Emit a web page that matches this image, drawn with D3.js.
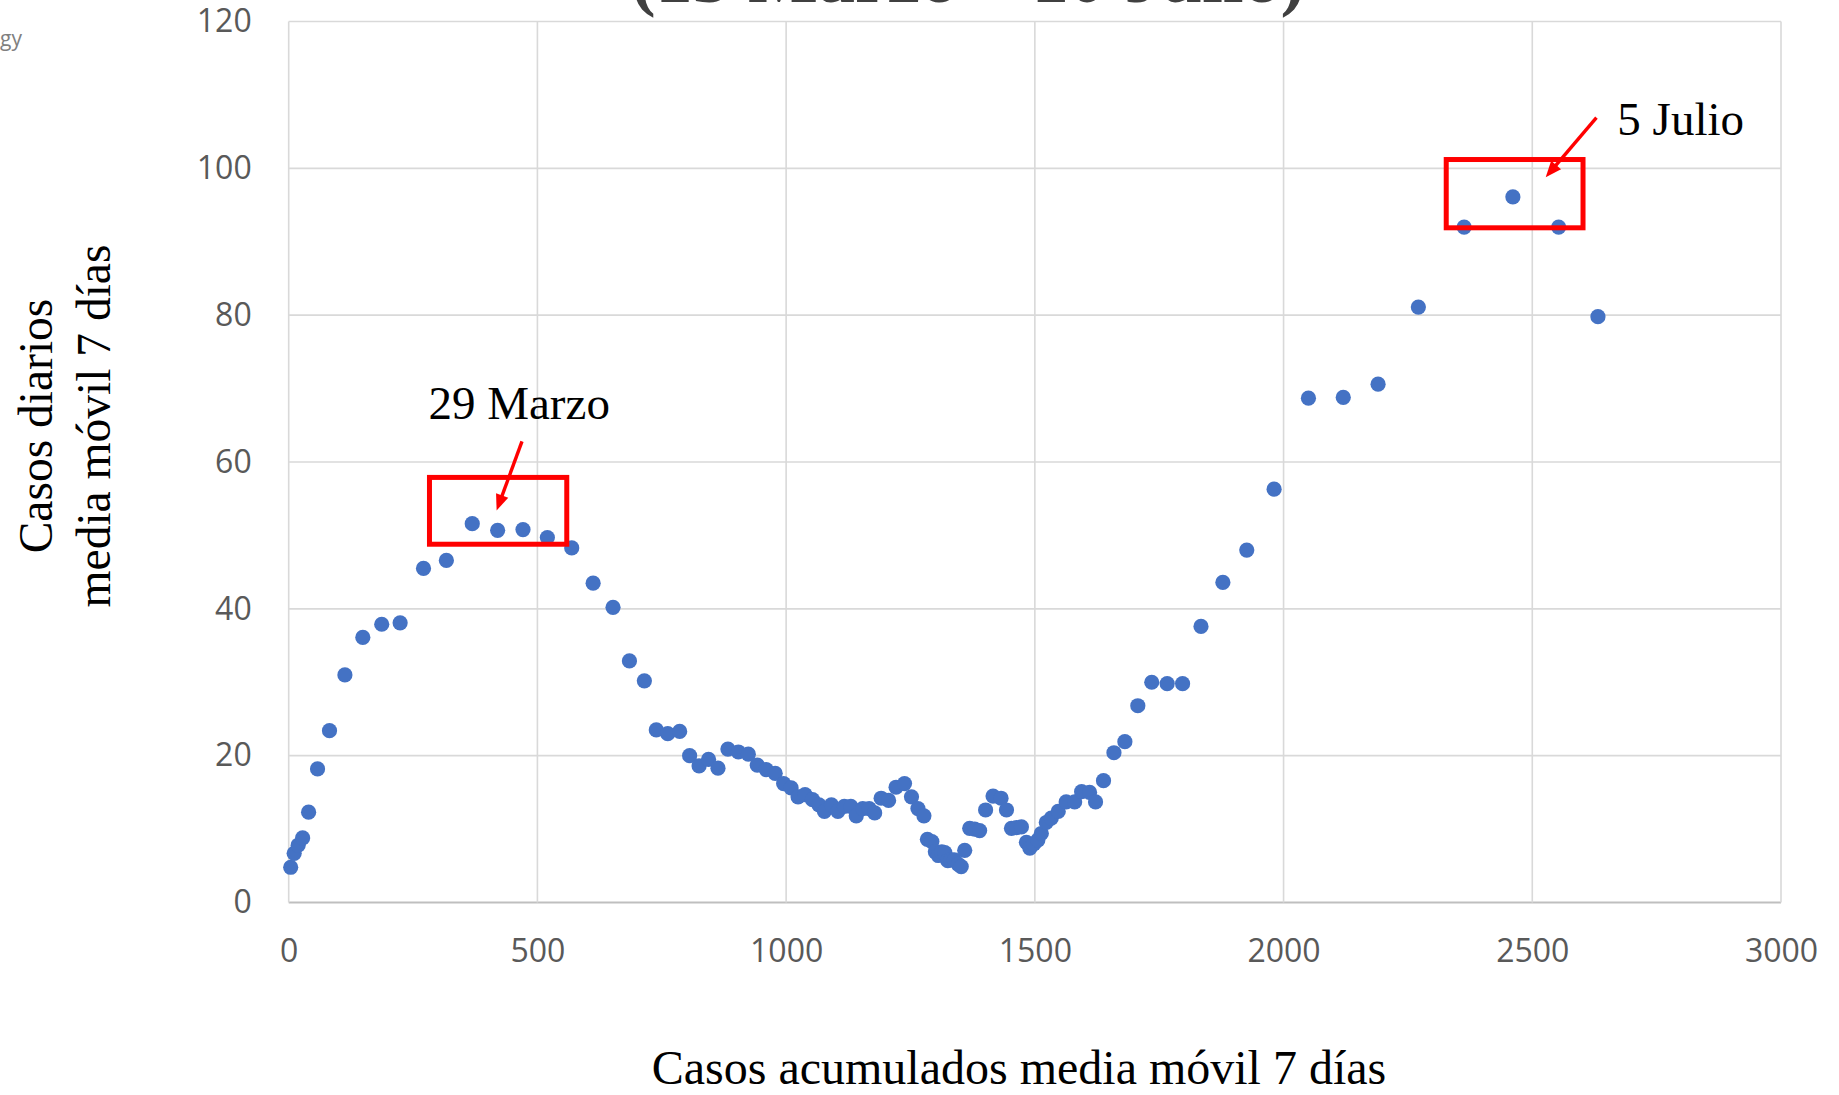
<!DOCTYPE html>
<html><head><meta charset="utf-8">
<script src="https://cdn.jsdelivr.net/npm/d3@7"></script>
<style>html,body{margin:0;padding:0;background:#fff;overflow:hidden}</style>
</head><body>
<svg id="chart" width="1839" height="1095"></svg>
<script>
// ---- data ----
const cumulative = [4, 11, 19, 28, 40, 58, 82, 113, 149, 187, 224, 271, 317, 369, 420, 471, 520, 569, 612, 652,
  685, 715, 739, 762, 786, 806, 825, 844, 863, 883, 904, 924, 942, 960, 978, 995, 1010, 1024, 1038, 1053,
  1066, 1077, 1091, 1104, 1117, 1130, 1141, 1154, 1167, 1178, 1191, 1206, 1221, 1238, 1252, 1265, 1277, 1284, 1293, 1300,
  1306, 1313, 1319, 1325, 1331, 1338, 1346, 1352, 1359, 1369, 1379, 1389, 1401, 1416, 1432, 1443, 1453, 1463, 1473, 1483,
  1490, 1498, 1506, 1513, 1523, 1533, 1547, 1563, 1580, 1594, 1610, 1622, 1638, 1659, 1681, 1707, 1735, 1766, 1797, 1834,
  1878, 1926, 1981, 2050, 2120, 2190, 2271, 2363, 2461, 2553, 2632];
const daily = [4.8, 6.7, 7.8, 8.8, 12.3, 18.2, 23.4, 31.0, 36.1, 37.9, 38.1, 45.5, 46.6, 51.6, 50.7, 50.8, 49.7, 48.3, 43.5, 40.2,
  32.9, 30.2, 23.5, 23.0, 23.3, 20.0, 18.6, 19.5, 18.3, 20.9, 20.5, 20.2, 18.7, 18.1, 17.6, 16.2, 15.6, 14.4, 14.7, 14.0,
  13.3, 12.4, 13.3, 12.4, 13.1, 13.1, 11.8, 12.8, 12.8, 12.2, 14.2, 13.9, 15.7, 16.2, 14.4, 12.8, 11.8, 8.6, 8.3, 6.9,
  6.4, 6.9, 6.8, 5.7, 5.8, 5.8, 5.2, 4.9, 7.1, 10.1, 10.0, 9.8, 12.6, 14.5, 14.2, 12.6, 10.1, 10.2, 10.3, 8.2,
  7.4, 8.0, 8.5, 9.4, 10.9, 11.5, 12.4, 13.7, 13.7, 15.1, 15.0, 13.7, 16.6, 20.4, 21.9, 26.8, 30.0, 29.8, 29.8, 37.6,
  43.6, 48.0, 56.3, 68.7, 68.8, 70.6, 81.1, 92.0, 96.1, 92.0, 79.8];
const xTicks = [0, 500, 1000, 1500, 2000, 2500, 3000];
const yTicks = [0, 20, 40, 60, 80, 100, 120];
const titleText = "(15 Marzo \u2013 10 Julio)";
const xTitle = "Casos acumulados media m\u00f3vil 7 d\u00edas";
const yTitleLines = ["Casos diarios", "media m\u00f3vil 7 d\u00edas"];
const cornerText = "gy";
// annotations, in data units
const annLabels = ["29 Marzo", "5 Julio"];
const annLabelAt = [[281, 65.8], [2671, 104.5]];
const annBoxX = [[283, 559], [2327, 2602]];
const annBoxY = [[48.8, 57.9], [91.9, 101.2]];
const annArrowFrom = [[469, 62.8], [2629, 106.9]];
const annArrowTo = [[418, 53.4], [2527, 98.8]];

// ---- drawing ----
const svg = d3.select("#chart");
const x = d3.scaleLinear().domain([0, 3000]).range([288.7, 1781]);
const y = d3.scaleLinear().domain([0, 120]).range([902.5, 21.5]);
const serif = "'Liberation Serif', 'Times New Roman', serif";
const sans = "'Open Sans', 'Noto Sans', sans-serif";

// title (cut at top of frame, as in the reference)
svg.append("text").attr("x", 968).attr("y", 2).attr("text-anchor", "middle")
  .attr("font-family", serif).attr("font-size", 74).attr("font-weight", "bold")
  .attr("fill", "#404040").text(titleText);

svg.append("text").attr("x", 0).attr("y", 46).attr("font-family", sans)
  .attr("font-size", 21).attr("fill", "#808080").text(cornerText);

// gridlines
const grid = svg.append("g");
grid.selectAll("line.h").data(yTicks).join("line").attr("class", "h")
  .attr("x1", x(0)).attr("x2", x(3000)).attr("y1", d => y(d)).attr("y2", d => y(d))
  .attr("stroke", d => d === 0 ? "#bfbfbf" : "#d9d9d9").attr("stroke-width", d => d === 0 ? 2 : 1.6);
grid.selectAll("line.v").data(xTicks).join("line").attr("class", "v")
  .attr("y1", y(0)).attr("y2", y(120)).attr("x1", d => x(d)).attr("x2", d => x(d))
  .attr("stroke", "#d9d9d9").attr("stroke-width", 1.6);

// axes
const xAxis = svg.append("g").attr("transform", `translate(0,${y(0)})`)
  .call(d3.axisBottom(x).tickValues(xTicks).tickSize(0).tickPadding(37).tickFormat(d3.format("d")));
const yAxis = svg.append("g").attr("transform", `translate(${x(0)},0)`)
  .call(d3.axisLeft(y).tickValues(yTicks).tickSize(0).tickPadding(37).tickFormat(d3.format("d")));
[xAxis, yAxis].forEach(a => {
  a.select(".domain").remove();
  a.selectAll("text").attr("font-family", sans).attr("font-size", 32).attr("fill", "#595959");
});

// points
svg.append("g").selectAll("circle").data(cumulative).join("circle")
  .attr("cx", d => x(d)).attr("cy", (d, i) => y(daily[i])).attr("r", 7.6).attr("fill", "#4472C4");

// annotations
const ann = svg.append("g");
annLabels.forEach((lab, i) => {
  ann.append("rect")
    .attr("x", x(annBoxX[i][0])).attr("width", x(annBoxX[i][1]) - x(annBoxX[i][0]))
    .attr("y", y(annBoxY[i][1])).attr("height", y(annBoxY[i][0]) - y(annBoxY[i][1]))
    .attr("fill", "none").attr("stroke", "#FF0000").attr("stroke-width", 5);
  const x1 = x(annArrowFrom[i][0]), y1 = y(annArrowFrom[i][1]);
  const x2 = x(annArrowTo[i][0]), y2 = y(annArrowTo[i][1]);
  const len = Math.hypot(x2 - x1, y2 - y1), ux = (x2 - x1) / len, uy = (y2 - y1) / len;
  ann.append("line").attr("x1", x1).attr("y1", y1)
    .attr("x2", x2 - ux * 10).attr("y2", y2 - uy * 10)
    .attr("stroke", "#FF0000").attr("stroke-width", 3.4);
  const bx = x2 - ux * 16, by = y2 - uy * 16, px = -uy, py = ux;
  ann.append("path")
    .attr("d", `M${x2},${y2}L${bx + px * 6.5},${by + py * 6.5}L${bx - px * 6.5},${by - py * 6.5}Z`)
    .attr("fill", "#FF0000");
  ann.append("text").attr("x", x(annLabelAt[i][0])).attr("y", y(annLabelAt[i][1]))
    .attr("font-family", serif).attr("font-size", 47).attr("fill", "#000").text(lab);
});

// axis titles
svg.append("text").attr("x", 1019).attr("y", 1084).attr("text-anchor", "middle")
  .attr("font-family", serif).attr("font-size", 48).attr("fill", "#000").text(xTitle);
const yt = svg.append("text").attr("transform", "translate(51.7,426) rotate(-90)")
  .attr("text-anchor", "middle").attr("font-family", serif).attr("font-size", 47.5).attr("fill", "#000");
yTitleLines.forEach((l, i) => yt.append("tspan").attr("x", 0).attr("y", i * 58).text(l));
</script>
</body></html>
